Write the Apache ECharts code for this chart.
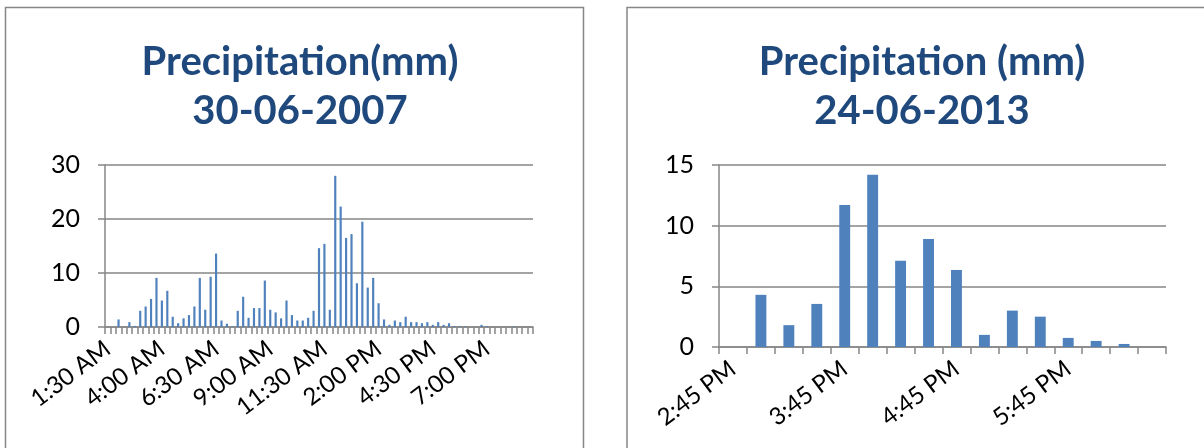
<!DOCTYPE html>
<html>
<head>
<meta charset="utf-8">
<script src="https://cdn.jsdelivr.net/npm/echarts@6/dist/echarts.min.js"></script>
<style>
  html, body { margin: 0; padding: 0; background: #fff; }
  #main { width: 1204px; height: 448px; }
</style>
</head>
<body>
<div id="main"></div>
<script>
// 30-06-2007, 15 min steps
var times2007 = [
  '1:30 AM', '1:45 AM',
  '2:00 AM', '2:15 AM', '2:30 AM', '2:45 AM',
  '3:00 AM', '3:15 AM', '3:30 AM', '3:45 AM',
  '4:00 AM', '4:15 AM', '4:30 AM', '4:45 AM',
  '5:00 AM', '5:15 AM', '5:30 AM', '5:45 AM',
  '6:00 AM', '6:15 AM', '6:30 AM', '6:45 AM',
  '7:00 AM', '7:15 AM', '7:30 AM', '7:45 AM',
  '8:00 AM', '8:15 AM', '8:30 AM', '8:45 AM',
  '9:00 AM', '9:15 AM', '9:30 AM', '9:45 AM',
  '10:00 AM', '10:15 AM', '10:30 AM', '10:45 AM',
  '11:00 AM', '11:15 AM', '11:30 AM', '11:45 AM',
  '12:00 PM', '12:15 PM', '12:30 PM', '12:45 PM',
  '1:00 PM', '1:15 PM', '1:30 PM', '1:45 PM',
  '2:00 PM', '2:15 PM', '2:30 PM', '2:45 PM',
  '3:00 PM', '3:15 PM', '3:30 PM', '3:45 PM',
  '4:00 PM', '4:15 PM', '4:30 PM', '4:45 PM',
  '5:00 PM', '5:15 PM', '5:30 PM', '5:45 PM',
  '6:00 PM', '6:15 PM', '6:30 PM', '6:45 PM',
  '7:00 PM', '7:15 PM', '7:30 PM', '7:45 PM',
  '8:00 PM', '8:15 PM', '8:30 PM', '8:45 PM',
  '9:00 PM'
];
var rain2007 = [
  0, 0, 1.4, 0, 0.9, 0.2, 3.0, 3.8, 5.2, 9.1,
  4.9, 6.7, 1.9, 0.7, 1.6, 2.2, 3.8, 9.1, 3.2, 9.3,
  13.6, 1.2, 0.6, 0.1, 3.0, 5.6, 1.7, 3.5, 3.5, 8.6,
  3.2, 2.7, 1.6, 4.9, 2.2, 1.2, 1.2, 1.7, 3.0, 14.6,
  15.4, 3.2, 28.0, 22.3, 16.5, 17.2, 8.1, 19.5, 7.3, 9.1,
  4.4, 1.4, 0.4, 1.2, 0.9, 1.9, 0.9, 0.9, 0.7, 0.9,
  0.4, 0.9, 0.4, 0.7, 0.15, 0.15, 0.15, 0, 0, 0.4,
  0.15, 0, 0, 0, 0, 0.15, 0, 0, 0
];

// 24-06-2013
var times2013 = [
  '2:45 PM', '3:00 PM', '3:15 PM', '3:30 PM',
  '3:45 PM', '4:00 PM', '4:15 PM', '4:30 PM',
  '4:45 PM', '5:00 PM', '5:15 PM', '5:30 PM',
  '5:45 PM', '6:00 PM', '6:15 PM', '6:30 PM'
];
var rain2013 = [0, 4.3, 1.8, 3.55, 11.7, 14.2, 7.1, 8.9, 6.35, 1.0, 3.0, 2.5, 0.75, 0.5, 0.25, 0];

var titles = ['Precipitation(mm)\n30-06-2007', 'Precipitation (mm)\n24-06-2013'];
var yMax = [30, 15];
var yStep = [10, 5];

var gray = '#868686';
var barBlue = '#4f81bd';
var fontName = 'Lato';

var myChart = echarts.init(document.getElementById('main'));

function xAxisFor(idx, cats, every) {
  return {
    type: 'category',
    gridIndex: idx,
    data: cats,
    boundaryGap: true,
    axisLine: { lineStyle: { color: gray, width: 1.5 } },
    axisTick: { show: true, interval: 0, length: 7, lineStyle: { color: gray, width: 1.5 } },
    axisLabel: {
      interval: every - 1,
      rotate: 37,
      margin: 19,
      color: '#000',
      fontFamily: fontName,
      fontSize: 24
    }
  };
}

function yAxisFor(idx) {
  return {
    type: 'value',
    gridIndex: idx,
    min: 0,
    max: yMax[idx],
    interval: yStep[idx],
    axisLine: { show: true, lineStyle: { color: gray, width: 1.5 } },
    axisTick: { show: true, length: 7, lineStyle: { color: gray, width: 1.5 } },
    axisLabel: { margin: 25, color: '#000', fontFamily: fontName, fontSize: 25 },
    splitLine: { show: true, lineStyle: { color: gray, width: 1.5 } }
  };
}

var titleStyle = { fontFamily: fontName, fontWeight: 'bold', fontSize: 40, lineHeight: 49, color: '#1f497d' };

var option = {
  animation: false,
  backgroundColor: '#fff',
  title: [
    { text: titles[0], left: 295, top: 33, textAlign: 'center', textStyle: titleStyle },
    { text: titles[1], left: 917, top: 33, textAlign: 'center', textStyle: titleStyle }
  ],
  graphic: [
    { type: 'rect', shape: { x: 5.5, y: 7.5, width: 578, height: 460 }, style: { fill: 'none', stroke: gray, lineWidth: 1.5 } },
    { type: 'rect', shape: { x: 627, y: 7.5, width: 590, height: 460 }, style: { fill: 'none', stroke: gray, lineWidth: 1.5 } }
  ],
  grid: [
    { left: 105, right: 671, top: 165, bottom: 121 },
    { left: 719, right: 38, top: 165, bottom: 101 }
  ],
  xAxis: [xAxisFor(0, times2007, 10), xAxisFor(1, times2013, 4)],
  yAxis: [yAxisFor(0), yAxisFor(1)],
  series: [
    { type: 'bar', xAxisIndex: 0, yAxisIndex: 0, data: rain2007, barWidth: '40%', itemStyle: { color: barBlue } },
    { type: 'bar', xAxisIndex: 1, yAxisIndex: 1, data: rain2013, barWidth: '39%', itemStyle: { color: barBlue } }
  ]
};

myChart.setOption(option);
</script>
</body>
</html>
